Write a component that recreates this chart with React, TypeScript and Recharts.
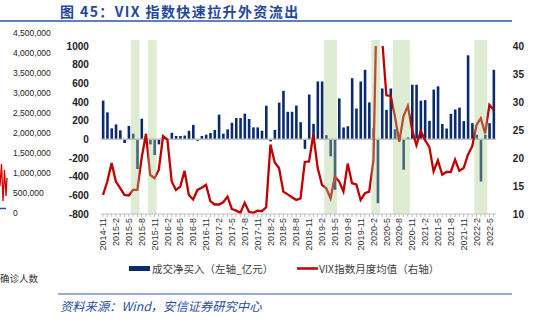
import React from 'react'
import { ComposedChart, Bar, Line, XAxis, YAxis, ReferenceArea, ReferenceLine } from 'recharts'

// monthly categories, 2014-11 .. 2022-6
const months = [
  '2014-11', '2014-12',
  '2015-1', '2015-2', '2015-3', '2015-4', '2015-5', '2015-6', '2015-7', '2015-8', '2015-9', '2015-10', '2015-11', '2015-12',
  '2016-1', '2016-2', '2016-3', '2016-4', '2016-5', '2016-6', '2016-7', '2016-8', '2016-9', '2016-10', '2016-11', '2016-12',
  '2017-1', '2017-2', '2017-3', '2017-4', '2017-5', '2017-6', '2017-7', '2017-8', '2017-9', '2017-10', '2017-11', '2017-12',
  '2018-1', '2018-2', '2018-3', '2018-4', '2018-5', '2018-6', '2018-7', '2018-8', '2018-9', '2018-10', '2018-11', '2018-12',
  '2019-1', '2019-2', '2019-3', '2019-4', '2019-5', '2019-6', '2019-7', '2019-8', '2019-9', '2019-10', '2019-11', '2019-12',
  '2020-1', '2020-2', '2020-3', '2020-4', '2020-5', '2020-6', '2020-7', '2020-8', '2020-9', '2020-10', '2020-11', '2020-12',
  '2021-1', '2021-2', '2021-3', '2021-4', '2021-5', '2021-6', '2021-7', '2021-8', '2021-9', '2021-10', '2021-11', '2021-12',
  '2022-1', '2022-2', '2022-3', '2022-4', '2022-5', '2022-6',
]

// 成交净买入, 亿元 (left axis)
const netBuy = [
  415, 289,
  118, 160, 96, -39, 143, 61, -318, 221, 8, -54, -168, -54,
  38, -5, 70, 36, 36, 40, 92, 155, -15, 36, 50, 68,
  100, 264, 60, 107, 178, 228, 228, 275, 218, 128, 128, 92,
  360, -22, 102, 393, 520, 295, 295, 362, 184, -102, 480, 166,
  620, 620, 45, -182, -541, 438, 127, 141, 655, 330, 620, 745,
  395, 120, -684, 545, 316, 545, 107, 10, -325, 20, 585, 585,
  414, 420, 198, 533, 568, 164, 116, 274, 320, 340, 195, 900,
  173, 50, -452, 50, 173, 745,
]

// VIX monthly average (right axis)
const vix = [
  13.4, 15.8,
  19.1, 15.8, 14.6, 13.4, 13.3, 14.3, 14.3, 20.0, 24.3, 17.0, 16.4, 17.9,
  23.9, 23.3, 15.8, 14.3, 14.9, 17.7, 13.4, 12.6, 14.3, 14.7, 15.2, 12.3,
  11.7, 11.7, 12.1, 13.1, 10.9, 10.6, 10.2, 12.0, 10.4, 10.2, 10.6, 10.5,
  11.2, 22.4, 19.2, 18.2, 14.0, 13.5, 13.0, 12.5, 12.8, 19.3, 19.4, 24.2,
  18.2, 15.2, 14.6, 12.8, 16.7, 15.8, 14.0, 19.0, 15.5, 15.3, 12.5, 13.7,
  14.0, 19.6, 57.7, 41.4, 31.2, 31.1, 27.4, 22.9, 27.5, 29.3, 25.0, 22.3,
  24.8, 23.2, 22.0, 17.6, 19.6, 17.0, 17.5, 17.5, 19.7, 17.7, 18.2, 20.6,
  22.1, 25.9, 27.1, 24.4, 29.5, 28.6,
]

// shaded periods
const shaded = [
  ['2015-6', '2015-7'],
  ['2015-10', '2015-11'],
  ['2019-3', '2019-5'],
  ['2020-2', '2020-3'],
  ['2020-7', '2020-10'],
  ['2022-2', '2022-4'],
]

const leftTicks = [-800, -600, -400, -200, 0, 200, 400, 600, 800, 1000]
const rightTicks = [10, 15, 20, 25, 30, 35, 40]

// stray labels from the neighbouring chart
const strayTicks = ['4,500,000', '4,000,000', '3,500,000', '3,000,000', '2,500,000', '2,000,000', '1,500,000', '1,000,000', '500,000', '0']

const data = months.map((m, i) => ({ month: m, net: netBuy[i], vix: vix[i] }))

const FONT = '"Liberation Sans", Arial, "Noto Sans CJK SC", sans-serif'
const CJK = '"Noto Sans CJK SC", "Liberation Sans", sans-serif'

function MonthTick(props: any) {
  const { x, y, payload, index } = props
  if (index % 3 !== 0) return null
  return (
    <text
      x={x}
      y={y}
      transform={`rotate(-90, ${x}, ${y})`}
      textAnchor="end"
      dy="0.35em"
      fontSize={9}
      fontFamily={FONT}
      fill="#333"
    >
      {payload.value}
    </text>
  )
}

export default function App() {
  return (
    <div style={{ position: 'absolute', left: 0, top: 0, width: 543, height: 324, background: '#fff', overflow: 'hidden' }}>
      <ComposedChart
        width={543}
        height={324}
        data={data}
        margin={{ top: 46, right: 0, bottom: 60, left: 0 }}
        style={{ position: 'absolute', left: 0, top: 0 }}
      >
        <XAxis
          dataKey="month"
          interval={0}
          height={50}
          tick={<MonthTick />}
          tickSize={3}
          tickMargin={1}
          axisLine={{ stroke: '#bfbfbf' }}
          tickLine={{ stroke: '#bfbfbf' }}
        />
        <YAxis
          yAxisId="left"
          width={100.85}
          domain={[-800, 1000]}
          ticks={leftTicks}
          interval={0}
          axisLine={false}
          tickLine={false}
          tickMargin={6}
          tick={{ fontSize: 10, fill: '#222', fontFamily: FONT, fontWeight: 'bold' }}
        />
        <YAxis
          yAxisId="right"
          orientation="right"
          width={47.15}
          domain={[10, 40]}
          allowDataOverflow
          ticks={rightTicks}
          interval={0}
          axisLine={false}
          tickLine={false}
          tickMargin={11}
          tick={{ fontSize: 10, fill: '#222', fontFamily: FONT, fontWeight: 'bold', textAnchor: 'start' }}
        />
        <ReferenceLine yAxisId="left" y={0} stroke="#bfbfbf" strokeWidth={1.5} />
        <Bar yAxisId="left" dataKey="net" fill="#0a2a6e" barSize={2.6} isAnimationActive={false} />
        <Line
          yAxisId="right"
          dataKey="vix"
          type="linear"
          stroke="#c00000"
          strokeWidth={2.3}
          dot={false}
          isAnimationActive={false}
        />
        {shaded.map(([a, b]) => (
          <ReferenceArea
            key={a}
            yAxisId="left"
            x1={a}
            x2={b}
            y1={-800}
            y2={1064}
            ifOverflow="visible"
            fill="#a7cd8e"
            fillOpacity={0.38}
            stroke="none"
            zIndex={450}
          />
        ))}
      </ComposedChart>

      <svg width={543} height={324} style={{ position: 'absolute', left: 0, top: 0, pointerEvents: 'none' }}>
        <text x={60} y={11} dominantBaseline="central" fontSize={14} fontWeight="bold" fill="#24479a" fontFamily={CJK} letterSpacing={1.4}>
          图 45：VIX 指数快速拉升外资流出
        </text>
        <line x1={0} y1={21} x2={512} y2={21} stroke="#2f55a4" strokeWidth={1.5} />

        {strayTicks.map((t, i) => (
          <text key={t} x={13} y={33 + i * 20} dominantBaseline="central" fontSize={8.5} fill="#222" fontFamily={FONT}>
            {t}
          </text>
        ))}
        <polyline points="0,186 1.5,164 3,201 4.5,170 6,196 7,178" fill="none" stroke="#d00000" strokeWidth={1.3} />
        <line x1={0} y1={208.5} x2={6} y2={208.5} stroke="#2a4f9f" strokeWidth={1.5} />
        <text x={0} y={278} dominantBaseline="central" fontSize={9.5} fill="#333" fontFamily={CJK}>确诊人数</text>

        <rect x={129} y={266} width={21} height={5} fill="#0a2a6e" />
        <text x={152} y={268.5} dominantBaseline="central" fontSize={10.5} fill="#404040" fontFamily={CJK}>成交净买入（左轴_亿元）</text>
        <line x1={297} y1={268.5} x2={318} y2={268.5} stroke="#c00000" strokeWidth={2.5} />
        <text x={319} y={268.5} dominantBaseline="central" fontSize={10.5} fill="#404040" fontFamily={CJK}>VIX指数月度均值（右轴）</text>

        <line x1={58} y1={294} x2={512} y2={294} stroke="#3b5ca8" strokeWidth={1.2} />
        <text x={60} y={305.5} dominantBaseline="central" fontSize={12.3} fontStyle="italic" fill="#2a4f9f" fontFamily={CJK}>
          资料来源：Wind，安信证券研究中心
        </text>
      </svg>
    </div>
  )
}
